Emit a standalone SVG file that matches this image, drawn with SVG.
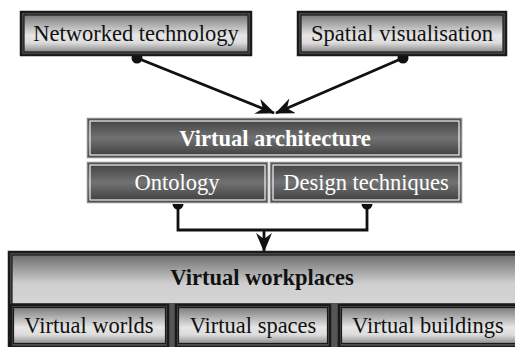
<svg xmlns="http://www.w3.org/2000/svg" width="515" height="347" viewBox="0 0 515 347">
  <defs>
    <linearGradient id="lightFill" x1="0" y1="0" x2="0" y2="1">
      <stop offset="0" stop-color="#7a7a7a"/>
      <stop offset="0.55" stop-color="#e6e6e6"/>
      <stop offset="0.75" stop-color="#dcdcdc"/>
      <stop offset="1" stop-color="#8a8a8a"/>
    </linearGradient>
    <linearGradient id="darkFill" x1="0" y1="0" x2="0" y2="1">
      <stop offset="0" stop-color="#3e3e3e"/>
      <stop offset="0.5" stop-color="#727272"/>
      <stop offset="1" stop-color="#3a3a3a"/>
    </linearGradient>
    <linearGradient id="headFill" x1="0" y1="0" x2="0" y2="1">
      <stop offset="0" stop-color="#6e6e6e"/>
      <stop offset="0.6" stop-color="#cfcfcf"/>
      <stop offset="1" stop-color="#d4d4d4"/>
    </linearGradient>
    <marker id="stealth" viewBox="0 0 19 16" refX="18" refY="8" markerWidth="19" markerHeight="16" markerUnits="userSpaceOnUse" orient="auto">
      <path d="M0,0 L19,8 L0,16 L6,8 Z" fill="#111"/>
    </marker>
    <marker id="dot" viewBox="-6 -6 12 12" refX="0" refY="0" markerWidth="12" markerHeight="12" markerUnits="userSpaceOnUse">
      <circle r="5.5" fill="#111"/>
    </marker>
  </defs>
  <style>
    .lt { font-family: "Liberation Serif", "Times New Roman", serif; font-size: 22.5px; fill: #111; text-anchor: middle; }
    .dk { font-family: "Liberation Serif", "Times New Roman", serif; font-size: 22.5px; fill: #fff; text-anchor: middle; }
    .bold { font-weight: bold; }
    .outerBlack { fill: none; stroke: #1a1a1a; stroke-width: 2.5; }
    .innerBlack { fill: none; stroke: #1a1a1a; stroke-width: 1.2; }
    .outerLight { fill: none; stroke: #888; stroke-width: 1.5; }
    .innerLight { fill: none; stroke: #f4f4f4; stroke-width: 1.2; }
    .wire { fill: none; stroke: #111; stroke-width: 2.8; }
  </style>

  <!-- connectors -->
  <g id="connectors">
    <line class="wire" x1="137" y1="58" x2="274" y2="113" marker-start="url(#dot)" marker-end="url(#stealth)"/>
    <line class="wire" x1="403" y1="58" x2="276" y2="113" marker-start="url(#dot)" marker-end="url(#stealth)"/>
    <path d="M172.5,204 A5.5,5.5 0 0 0 183.5,204 Z" fill="#111"/>
    <path d="M361.5,204 A5.5,5.5 0 0 0 372.5,204 Z" fill="#111"/>
    <polyline class="wire" points="178,205 178,230 367,230 367,205"/>
    <line class="wire" x1="264" y1="230" x2="264" y2="251" marker-end="url(#stealth)"/>
  </g>

  <!-- top sources -->
  <g id="networked-technology">
    <rect x="20" y="11" width="232" height="45" fill="#555"/>
    <rect x="24" y="15" width="224" height="37" fill="url(#lightFill)"/>
    <rect class="outerBlack" x="21" y="12" width="230" height="43"/>
    <rect class="innerBlack" x="24" y="15" width="224" height="37"/>
    <text class="lt" x="136" y="41">Networked technology</text>
  </g>
  <g id="spatial-visualisation">
    <rect x="297" y="11" width="210" height="45" fill="#555"/>
    <rect x="301" y="15" width="202" height="37" fill="url(#lightFill)"/>
    <rect class="outerBlack" x="298" y="12" width="208" height="43"/>
    <rect class="innerBlack" x="301" y="15" width="202" height="37"/>
    <text class="lt" x="402" y="41">Spatial visualisation</text>
  </g>

  <!-- virtual architecture -->
  <g id="virtual-architecture">
    <rect x="87" y="118" width="375" height="40" fill="url(#darkFill)"/>
    <rect class="outerLight" x="87.5" y="118.5" width="374" height="39"/>
    <rect class="innerLight" x="90" y="121" width="369" height="34"/>
    <text class="dk bold" x="275" y="146">Virtual architecture</text>
  </g>
  <g id="ontology">
    <rect x="87" y="162" width="181" height="41" fill="url(#darkFill)"/>
    <rect class="outerLight" x="87.5" y="162.5" width="180" height="40"/>
    <rect class="innerLight" x="90" y="165" width="175" height="35"/>
    <text class="dk" x="177" y="190">Ontology</text>
  </g>
  <g id="design-techniques">
    <rect x="270" y="162" width="192" height="41" fill="url(#darkFill)"/>
    <rect class="outerLight" x="270.5" y="162.5" width="191" height="40"/>
    <rect class="innerLight" x="273" y="165" width="186" height="35"/>
    <text class="dk" x="366" y="190">Design techniques</text>
  </g>

  <!-- virtual workplaces -->
  <g id="virtual-workplaces">
    <rect x="8" y="251" width="530" height="110" fill="#555"/>
    <rect x="12" y="255" width="522" height="48" fill="url(#headFill)"/>
    <rect class="outerBlack" x="9" y="252" width="528" height="108"/>
    <rect class="innerBlack" x="12" y="255" width="522" height="102"/>
    <text class="lt bold" x="262" y="285">Virtual workplaces</text>
  </g>
  <g id="virtual-worlds">
    <rect x="10" y="304" width="159" height="45" fill="#555"/>
    <rect x="13" y="307" width="153" height="37" fill="url(#lightFill)"/>
    <rect class="outerBlack" x="11" y="305" width="157" height="42"/>
    <rect class="innerBlack" x="13.5" y="307.5" width="152" height="36"/>
    <text class="lt" x="89" y="333">Virtual worlds</text>
  </g>
  <g id="virtual-spaces">
    <rect x="175" y="304" width="156" height="45" fill="#555"/>
    <rect x="178" y="307" width="150" height="37" fill="url(#lightFill)"/>
    <rect class="outerBlack" x="176" y="305" width="154" height="42"/>
    <rect class="innerBlack" x="178.5" y="307.5" width="149" height="36"/>
    <text class="lt" x="253" y="333">Virtual spaces</text>
  </g>
  <g id="virtual-buildings">
    <rect x="338" y="304" width="200" height="45" fill="#555"/>
    <rect x="341" y="307" width="194" height="37" fill="url(#lightFill)"/>
    <rect class="outerBlack" x="339" y="305" width="198" height="42"/>
    <rect class="innerBlack" x="341.5" y="307.5" width="193" height="36"/>
    <text class="lt" x="428" y="333">Virtual buildings</text>
  </g>
</svg>
